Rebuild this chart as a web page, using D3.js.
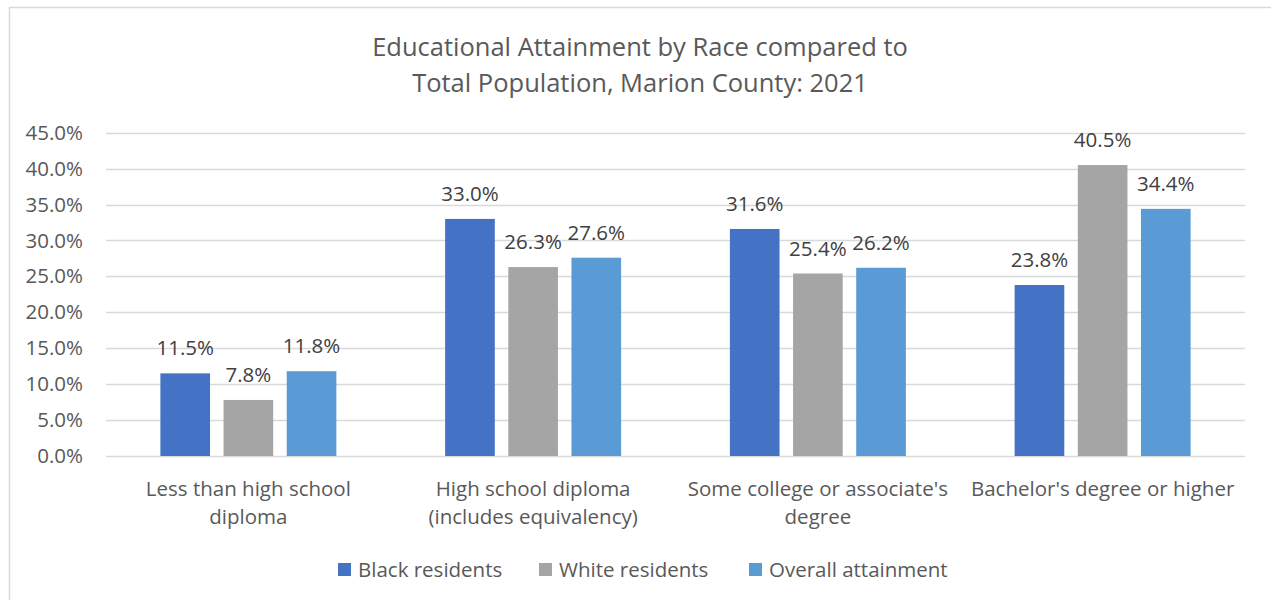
<!DOCTYPE html>
<html>
<head>
<meta charset="utf-8">
<script src="https://cdn.jsdelivr.net/npm/d3@7"></script>
<style>
    body { margin: 0; background: #fff; }
    svg { display: block; font-family: "Open Sans", sans-serif; }
</style>
</head>
<body>
<svg width="1271" height="600"></svg>
<script>
// chart data
const categories = [
    ["Less than high school", "diploma"],
    ["High school diploma", "(includes equivalency)"],
    ["Some college or associate's", "degree"],
    ["Bachelor's degree or higher"]
];
const seriesNames = ["Black residents", "White residents", "Overall attainment"];
const blackValues = [0.115, 0.330, 0.316, 0.238];
const whiteValues = [0.078, 0.263, 0.254, 0.405];
const overallValues = [0.118, 0.276, 0.262, 0.344];
const yTicks = [0, 0.05, 0.10, 0.15, 0.20, 0.25, 0.30, 0.35, 0.40, 0.45];
const colors = ["#4472C4", "#A5A5A5", "#5B9BD5"];

const allSeries = [blackValues, whiteValues, overallValues];

let svg = d3.select("svg");

// chart border
svg.append("path")
    .attr("d", "M9.5,700 V7.5 H1300")
    .attr("fill", "none")
    .attr("stroke", "#d9d9d9")
    .attr("stroke-width", 1.5);

// title
svg.append("text")
    .attr("x", 640)
    .attr("y", 56)
    .attr("text-anchor", "middle")
    .attr("font-size", 25.5)
    .attr("fill", "#595959")
    .selectAll("tspan")
    .data(["Educational Attainment by Race compared to", "Total Population, Marion County: 2021"])
    .enter()
    .append("tspan")
    .attr("x", 640)
    .attr("dy", (d, i) => i ? 36 : 0)
    .text(d => d);

let catKeys = categories.map(c => c.join(" "));

let x0 = d3.scaleBand()
    .domain(catKeys)
    .range([106, 1245])
    .paddingInner(0.382)
    .paddingOuter(0.191);

let x1 = d3.scaleBand()
    .domain(seriesNames)
    .range([0, x0.bandwidth()])
    .paddingInner(0.214);

let y = d3.scaleLinear()
    .domain([0, 0.45])
    .range([456, 132.7]);

// gridlines
svg.append("g")
    .selectAll("line")
    .data(yTicks)
    .enter()
    .append("line")
    .attr("x1", 106)
    .attr("x2", 1245)
    .attr("y1", d => Math.round(y(d)) + 0.5)
    .attr("y2", d => Math.round(y(d)) + 0.5)
    .attr("stroke", "#d9d9d9")
    .attr("stroke-width", 1.3);

// y axis labels
let yAxis = d3.axisLeft(y)
    .tickValues(yTicks)
    .tickFormat(d3.format(".1%"))
    .tickSize(0)
    .tickPadding(0);

let yg = svg.append("g")
    .attr("transform", "translate(83,0)")
    .call(yAxis);
yg.select(".domain").remove();
yg.selectAll("text")
    .attr("font-family", "Open Sans, sans-serif")
    .attr("font-size", 20.5)
    .attr("fill", "#595959");

// bars
let groups = svg.append("g")
    .selectAll("g")
    .data(catKeys)
    .enter()
    .append("g")
    .attr("transform", d => `translate(${x0(d)},0)`);

groups.selectAll("rect")
    .data((d, i) => allSeries.map((s, j) => ({ name: seriesNames[j], value: s[i], color: colors[j] })))
    .enter()
    .append("rect")
    .attr("x", d => x1(d.name))
    .attr("width", x1.bandwidth())
    .attr("y", d => y(d.value))
    .attr("height", d => y(0) - y(d.value))
    .attr("fill", d => d.color);

groups.selectAll("text.val")
    .data((d, i) => allSeries.map((s, j) => ({ name: seriesNames[j], value: s[i] })))
    .enter()
    .append("text")
    .attr("class", "val")
    .attr("x", d => x1(d.name) + x1.bandwidth() / 2)
    .attr("y", d => y(d.value) - 18)
    .attr("text-anchor", "middle")
    .attr("font-size", 20.5)
    .attr("fill", "#404040")
    .text(d => d3.format(".1%")(d.value));

// x axis labels
let xg = svg.append("g")
    .selectAll("text")
    .data(categories)
    .enter()
    .append("text")
    .attr("text-anchor", "middle")
    .attr("font-size", 20.5)
    .attr("fill", "#595959")
    .attr("y", 496);

xg.selectAll("tspan")
    .data((d, i) => d.map(line => ({ line, key: catKeys[i] })))
    .enter()
    .append("tspan")
    .attr("x", d => x0(d.key) + x0.bandwidth() / 2)
    .attr("dy", (d, i) => i ? 28 : 0)
    .text(d => d.line);

// legend
let legendX = [338, 539, 749];
let legend = svg.append("g")
    .selectAll("g")
    .data(seriesNames)
    .enter()
    .append("g")
    .attr("transform", (d, i) => `translate(${legendX[i]},563)`);

legend.append("rect")
    .attr("width", 13)
    .attr("height", 13)
    .attr("fill", (d, i) => colors[i]);

legend.append("text")
    .attr("x", 20)
    .attr("y", 14)
    .attr("font-size", 20.5)
    .attr("fill", "#595959")
    .text(d => d);
</script>
</body>
</html>
